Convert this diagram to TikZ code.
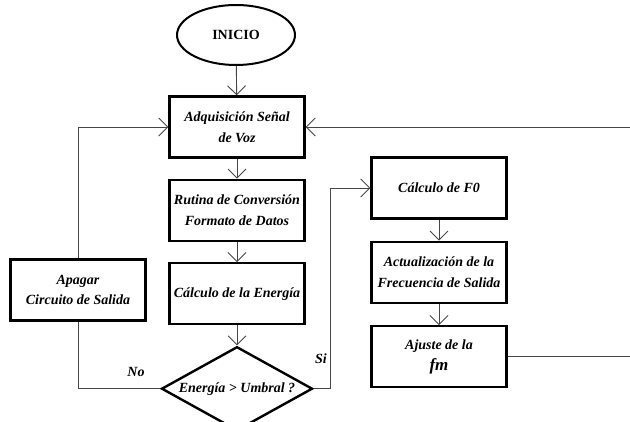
\documentclass[tikz,border=0pt]{standalone}
\usepackage{fontspec}
\setmainfont{Liberation Serif}
\usetikzlibrary{positioning,shapes.geometric,arrows.meta}
\definecolor{LineGray}{RGB}{70, 70, 70}

\begin{document}
\begin{tikzpicture}[x=1pt, y=-1pt,
    box/.style={draw, line width=2.4pt, minimum width=135pt, minimum height=61pt,
        align=center, inner sep=2pt, font=\fontsize{14}{20.5}\selectfont\bfseries\itshape},
    decision/.style={draw, diamond, line width=2.4pt, aspect=1.8, minimum width=151pt,
        minimum height=84pt, inner sep=0pt, font=\fontsize{14}{20.5}\selectfont\bfseries\itshape},
    startstop/.style={draw, ellipse, line width=2pt, minimum width=118pt, minimum height=60pt,
        font=\fontsize{14}{20.5}\selectfont\bfseries},
    flow/.style={LineGray, line width=0.9pt},
    arrow/.style={flow, -{Straight Barb[length=9pt, width=18pt, line width=0.9pt]}},
    lbl/.style={font=\fontsize{14}{20.5}\selectfont\bfseries\itshape}]
    \useasboundingbox (0,0) rectangle (630,422);
    % Main column
    \node[startstop] (inicio) at (236,35) {INICIO};
    \node[box] (adq) at (237,127) {Adquisición Señal\\de Voz};
    \node[box, below=20pt of adq] (rutina) {Rutina de Conversión\\Formato de Datos};
    \node[box, below=20pt of rutina] (energia) {Cálculo de la Energía};
    \node[decision, below=20pt of energia] (umbral) {Energía > Umbral ?};
    % Left branch
    \node[box] (apagar) at (78,290) {Apagar\\Circuito de Salida};
    % Right column
    \node[box] (f0) at (439,188) {Cálculo de F0};
    \node[box, below=21pt of f0] (actual) {Actualización de la\\Frecuencia de Salida};
    \node[box, below=21pt of actual] (ajuste) {Ajuste de la\\{\fontsize{17}{20.5}\selectfont fm}};
    % Loop ends at the page edge
    \coordinate (outB) at (630,127);
    \coordinate (outA) at (ajuste.east -| outB);
    % Connectors
    \draw[arrow] (inicio) -- (adq);
    \draw[arrow] (adq) -- (rutina);
    \draw[arrow] (rutina) -- (energia);
    \draw[arrow] (energia) -- (umbral);
    \draw[flow] (umbral.west) -| (apagar.south);
    \draw[arrow] (apagar.north) |- (adq.west);
    \draw[arrow] (umbral.east) -- ++(17,0) |- (f0.west);
    \draw[arrow] (f0) -- (actual);
    \draw[arrow] (actual) -- (ajuste);
    \draw[flow] (ajuste.east) -- (outA);
    \draw[arrow] (outB) -- (adq.east);
    % Labels
    \node[lbl] (no) at (136,372) {No};
    \node[lbl] (si) at (321,359) {Si};
\end{tikzpicture}
\end{document}
